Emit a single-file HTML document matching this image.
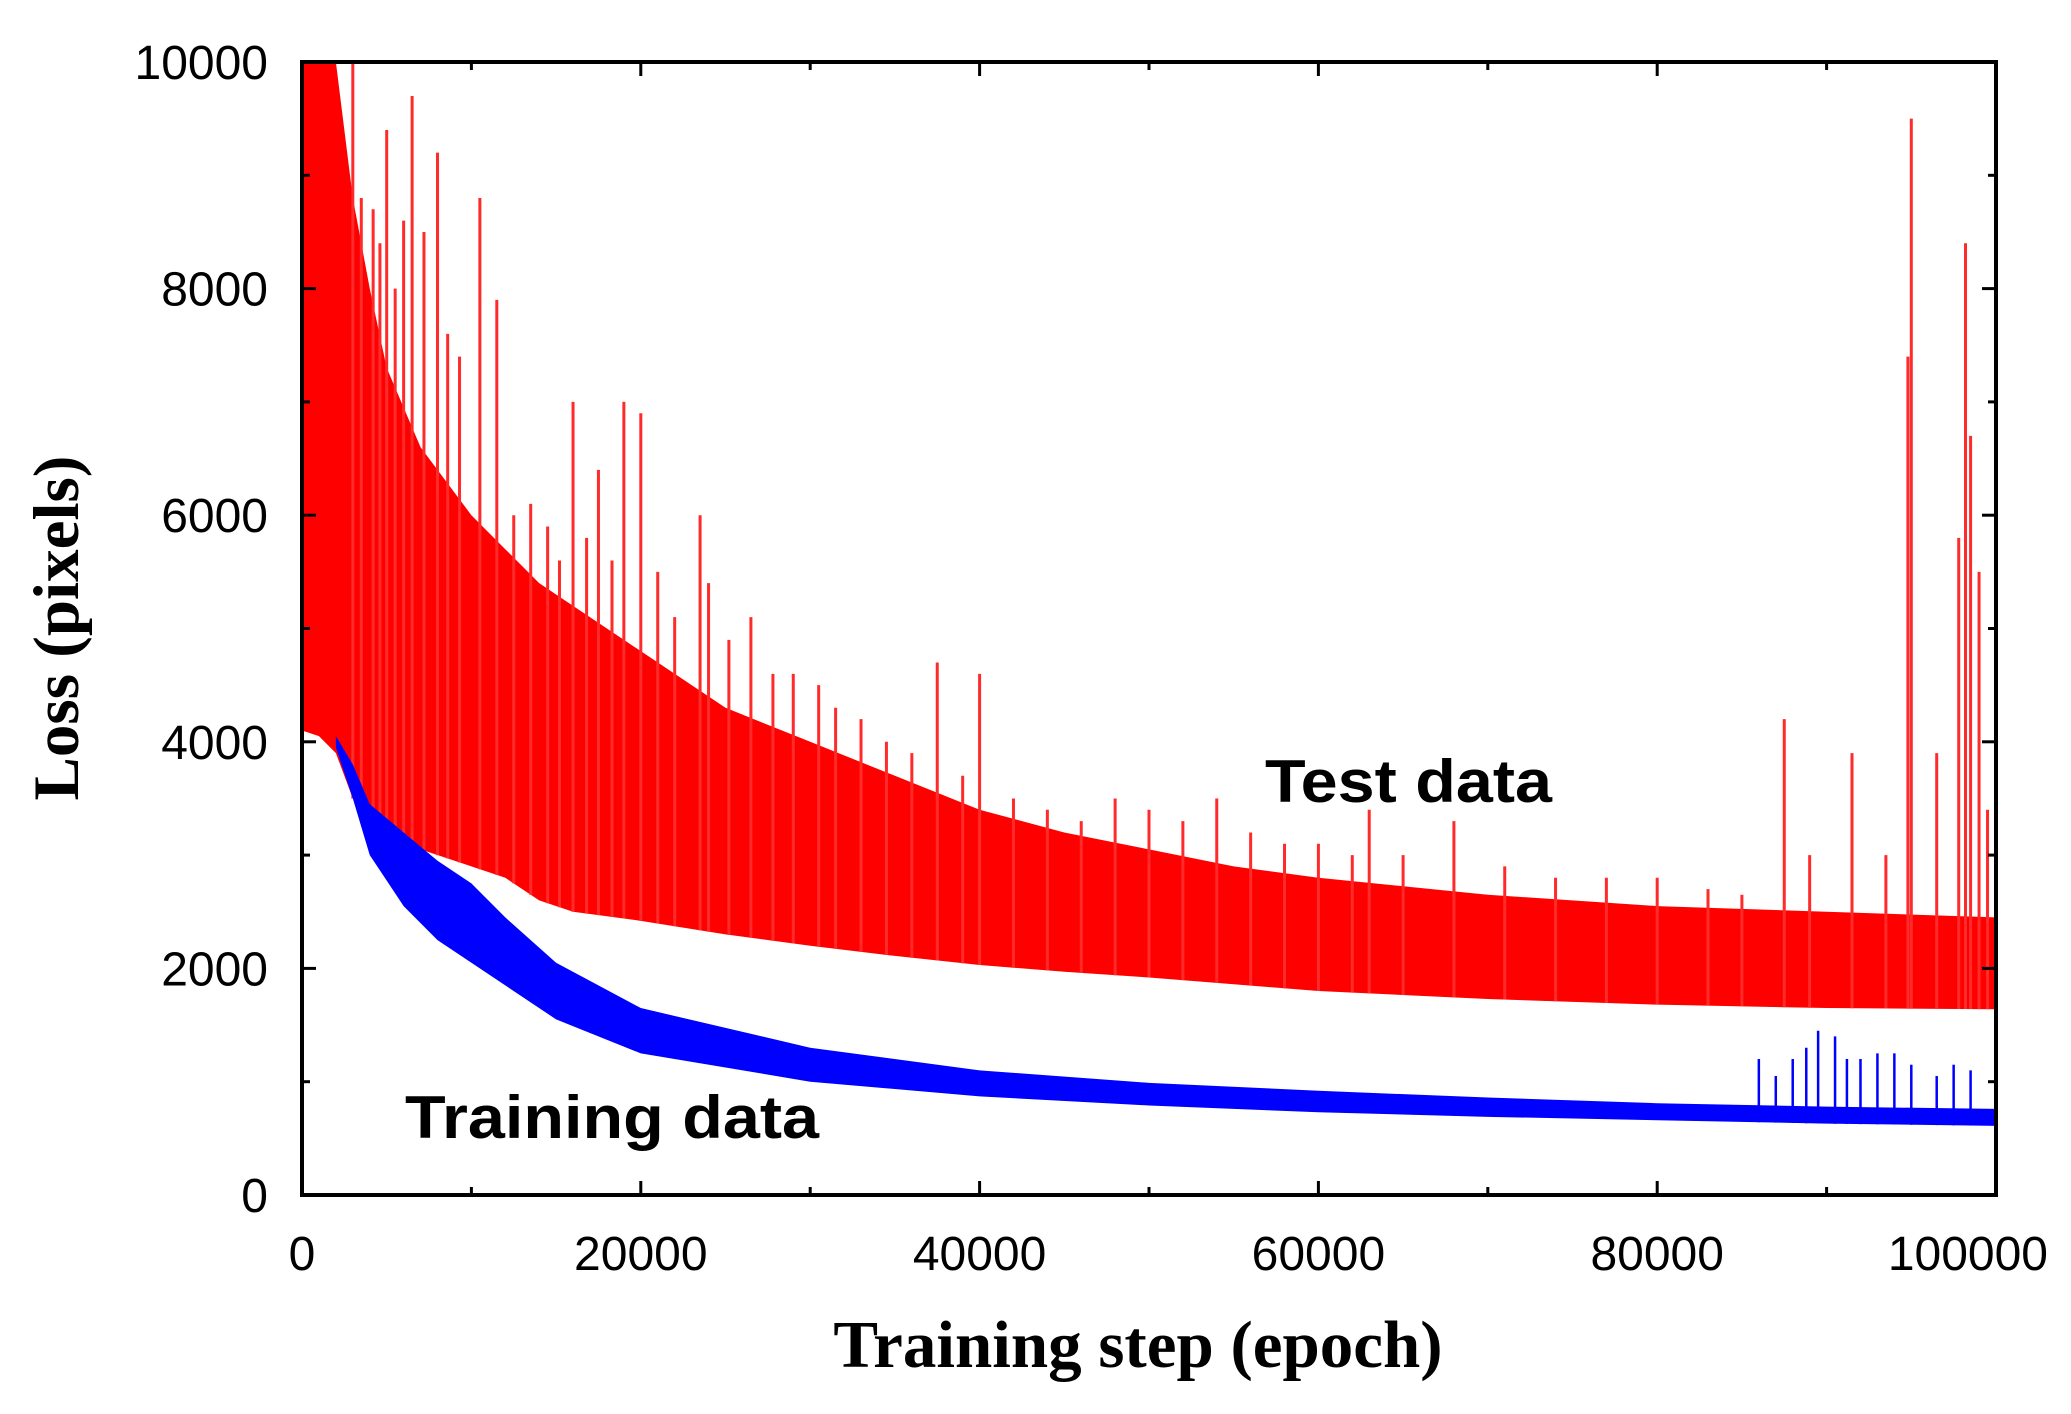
<!DOCTYPE html>
<html><head><meta charset="utf-8">
<style>
html,body{margin:0;padding:0;background:#fff;}
svg{display:block;}
</style></head>
<body>
<svg id="chart" width="2071" height="1414" viewBox="0 0 2071 1414" xmlns="http://www.w3.org/2000/svg">
  <rect x="0" y="0" width="2071" height="1414" fill="#fff"/>
  <g id="plot"></g>
  <g id="axes"></g>
  <text x="1265" y="802" font-family="Liberation Sans, sans-serif" font-weight="bold" font-size="60" textLength="287" lengthAdjust="spacingAndGlyphs">Test data</text>
  <text x="405" y="1138" font-family="Liberation Sans, sans-serif" font-weight="bold" font-size="60" textLength="414" lengthAdjust="spacingAndGlyphs">Training data</text>
  <text x="1138" y="1367" text-anchor="middle" font-family="Liberation Serif, serif" font-weight="bold" font-size="67">Training step (epoch)</text>
  <text transform="translate(78,628) rotate(-90)" text-anchor="middle" font-family="Liberation Serif, serif" font-weight="bold" font-size="65">Loss (pixels)</text>
</svg>
<script>
const xTicks = [0, 20000, 40000, 60000, 80000, 100000];
const yTicks = [0, 2000, 4000, 6000, 8000, 10000];
const testSteps = [0, 1000, 2000, 3000, 4000, 5000, 7000, 10000, 12000, 14000, 16000, 20000, 25000, 30000, 35000, 40000, 45000, 50000, 55000, 60000, 70000, 80000, 90000, 100000];
const testLow  = [4100, 4050, 3900, 3500, 3300, 3150, 3050, 2900, 2800, 2600, 2500, 2420, 2300, 2200, 2110, 2030, 1970, 1920, 1860, 1800, 1730, 1680, 1650, 1640];
const testHigh = [10000, 10000, 10000, 8800, 8000, 7300, 6600, 6000, 5700, 5400, 5200, 4800, 4300, 4000, 3700, 3400, 3200, 3050, 2900, 2800, 2650, 2550, 2500, 2450];
const testSpikeX = [3000, 3500, 4200, 4600, 5000, 5500, 6000, 6500, 7200, 8000, 8600, 9300, 10500, 11500, 12500, 13500, 14500, 15200, 16000, 16800, 17500, 18300, 19000, 20000, 21000, 22000, 23500, 24000, 25200, 26500, 27800, 29000, 30500, 31500, 33000, 34500, 36000, 37500, 39000, 40000, 42000, 44000, 46000, 48000, 50000, 52000, 54000, 56000, 58000, 60000, 62000, 63000, 65000, 68000, 71000, 74000, 77000, 80000, 83000, 85000, 87500, 89000, 91500, 93500, 94800, 95000, 96500, 97800, 98200, 98500, 99000, 99500];
const testSpikeY = [10000, 8800, 8700, 8400, 9400, 8000, 8600, 9700, 8500, 9200, 7600, 7400, 8800, 7900, 6000, 6100, 5900, 5600, 7000, 5800, 6400, 5600, 7000, 6900, 5500, 5100, 6000, 5400, 4900, 5100, 4600, 4600, 4500, 4300, 4200, 4000, 3900, 4700, 3700, 4600, 3500, 3400, 3300, 3500, 3400, 3300, 3500, 3200, 3100, 3100, 3000, 3400, 3000, 3300, 2900, 2800, 2800, 2800, 2700, 2650, 4200, 3000, 3900, 3000, 7400, 9500, 3900, 5800, 8400, 6700, 5500, 3400];
const trainSteps = [2000, 3000, 4000, 6000, 8000, 10000, 12000, 15000, 20000, 30000, 40000, 50000, 60000, 70000, 80000, 90000, 100000];
const trainLow  = [3950, 3500, 3000, 2550, 2250, 2050, 1850, 1550, 1250, 1000, 870, 790, 730, 690, 660, 630, 610];
const trainHigh = [4050, 3800, 3450, 3200, 2950, 2750, 2450, 2050, 1650, 1300, 1100, 990, 920, 860, 810, 780, 760];
const trainSpikeX = [86000, 87000, 88000, 88800, 89500, 90500, 91200, 92000, 93000, 94000, 95000, 96500, 97500, 98500];
const trainSpikeY = [1200, 1050, 1200, 1300, 1450, 1400, 1200, 1200, 1250, 1250, 1150, 1050, 1150, 1100];

const X0 = 302, X1 = 1996, Y0 = 1195, Y1 = 62;
function sx(v){ return X0 + (v / 100000) * (X1 - X0); }
function sy(v){ return Y0 - (v / 10000) * (Y0 - Y1); }
const NS = 'http://www.w3.org/2000/svg';
const plot = document.getElementById('plot');
const axes = document.getElementById('axes');
function mk(tag, attrs, parent){
  const e = document.createElementNS(NS, tag);
  for (const k in attrs) e.setAttribute(k, attrs[k]);
  parent.appendChild(e);
  return e;
}
function band(xs, lo, hi, color){
  let pts = [];
  for (let i = 0; i < xs.length; i++) pts.push(sx(xs[i]) + ',' + sy(hi[i]));
  for (let i = xs.length - 1; i >= 0; i--) pts.push(sx(xs[i]) + ',' + sy(lo[i]));
  return mk('polygon', {points: pts.join(' '), fill: color}, plot);
}
function lowAt(xs, lo, x){
  for (let i = 1; i < xs.length; i++) {
    if (x <= xs[i]) { const t = (x - xs[i-1]) / (xs[i] - xs[i-1]); return lo[i-1] + t * (lo[i] - lo[i-1]); }
  }
  return lo[lo.length - 1];
}
const tb = band(testSteps, testLow, testHigh, '#ff0000');


for (let i = 0; i < testSpikeX.length; i++) {
  const l = mk('line', {x1: sx(testSpikeX[i]), x2: sx(testSpikeX[i]), y1: sy(lowAt(testSteps, testLow, testSpikeX[i])), y2: sy(testSpikeY[i]), stroke: '#ff2a2a', 'stroke-width': 3}, plot);
  
  
}
const bb = band(trainSteps, trainLow, trainHigh, '#0000ff');


for (let i = 0; i < trainSpikeX.length; i++) {
  const l = mk('line', {x1: sx(trainSpikeX[i]), x2: sx(trainSpikeX[i]), y1: sy(lowAt(trainSteps, trainLow, trainSpikeX[i])), y2: sy(trainSpikeY[i]), stroke: '#0000ff', 'stroke-width': 2.5}, plot);
  
  
}
const frame = mk('rect', {x: X0, y: Y1, width: X1 - X0, height: Y0 - Y1, fill: 'none', stroke: '#000', 'stroke-width': 4}, axes);


for (let v = 0; v <= 100000; v += 10000) {
  const major = v % 20000 === 0, len = major ? 14 : 8;
  mk('line', {x1: sx(v), x2: sx(v), y1: Y0, y2: Y0 - len, stroke: '#000', 'stroke-width': 3}, axes);
  mk('line', {x1: sx(v), x2: sx(v), y1: Y1, y2: Y1 + len, stroke: '#000', 'stroke-width': 3}, axes);
}
for (let v = 0; v <= 10000; v += 1000) {
  const major = v % 2000 === 0, len = major ? 14 : 8;
  mk('line', {x1: X0, x2: X0 + len, y1: sy(v), y2: sy(v), stroke: '#000', 'stroke-width': 3}, axes);
  mk('line', {x1: X1, x2: X1 - len, y1: sy(v), y2: sy(v), stroke: '#000', 'stroke-width': 3}, axes);
}
xTicks.forEach((v, i) => {
  const last = i === xTicks.length - 1;
  const t = mk('text', {x: last ? 2048 : sx(v), y: 1270, 'text-anchor': last ? 'end' : 'middle', 'font-family': 'Liberation Sans, sans-serif', 'font-size': 48}, axes);
  t.textContent = String(v);
  
  
});
yTicks.forEach(v => {
  const t = mk('text', {x: 268, y: sy(v) + 17, 'text-anchor': 'end', 'font-family': 'Liberation Sans, sans-serif', 'font-size': 48}, axes);
  t.textContent = String(v);
  
  
});
</script>
</body></html>
